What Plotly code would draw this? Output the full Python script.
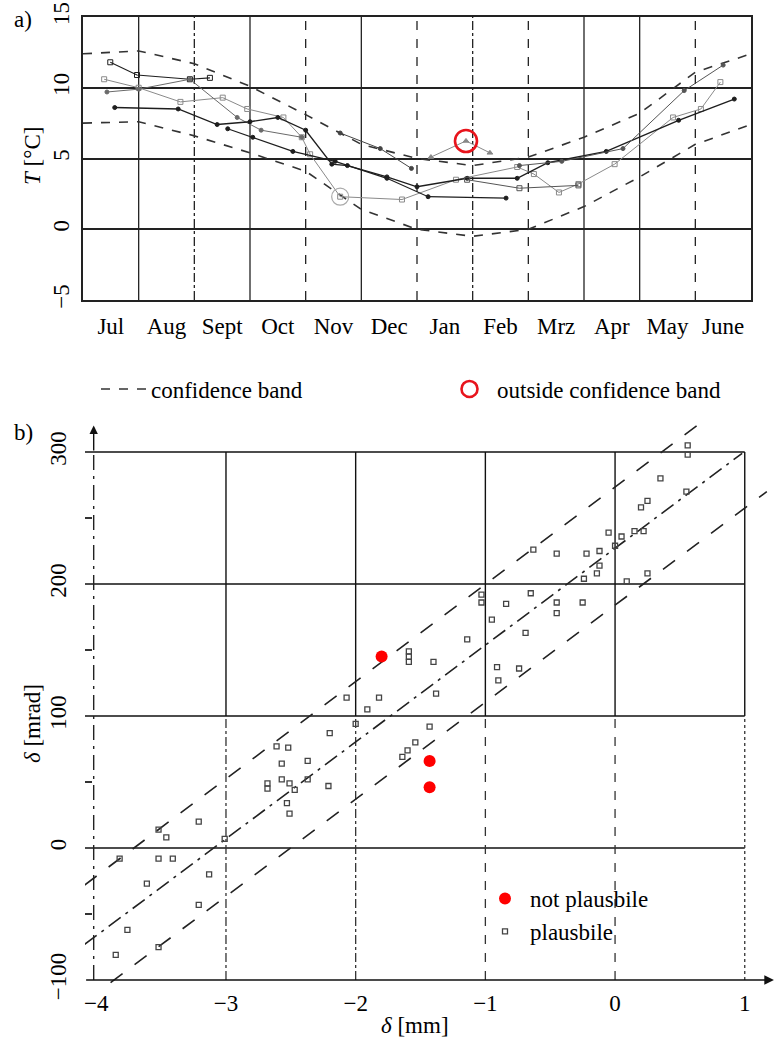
import plotly.graph_objects as go

# ---------------- panel a) data ----------------
months = ["Jul", "Aug", "Sept", "Oct", "Nov", "Dec", "Jan", "Feb", "Mrz", "Apr", "May", "June"]
month_pos = [i + 0.5 for i in range(12)]

band_u = list(range(13))
band_upper = [12.4, 12.6, 11.7, 10.1, 8.1, 6.0, 5.0, 4.5, 5.1, 6.5, 8.2, 11.1, 12.4]
band_lower = [7.5, 7.6, 6.6, 5.4, 4.1, 1.4, 0.0, -0.5, 0.0, 1.6, 3.7, 6.0, 7.4]

y1_u = [0.49, 0.97, 1.92, 2.28]
y1_T = [11.8, 10.9, 10.6, 10.7]
y2_u = [0.38, 1.0, 1.75, 2.51, 2.95, 3.6, 3.93, 4.08, 4.62, 5.73, 6.7, 7.8, 8.1, 8.55, 8.9, 9.55, 10.6, 11.1, 11.45]
y2_T = [10.6, 10.0, 9.0, 9.3, 8.5, 7.9, 6.5, 5.3, 2.3, 2.1, 3.5, 4.4, 3.9, 2.6, 3.2, 4.6, 7.9, 8.5, 10.4]
y3_u = [0.43, 1.0, 1.92, 2.77, 3.2, 3.93]
y3_T = [9.7, 9.9, 10.6, 7.9, 7.0, 6.5]
y4_u = [0.57, 1.71, 2.41, 3.0, 3.5, 4.0, 4.47, 4.75, 5.46, 6.0, 6.9, 7.8, 8.35, 9.4, 10.7, 11.7]
y4_T = [8.6, 8.5, 7.4, 7.6, 7.9, 7.0, 4.6, 4.5, 3.7, 3.0, 3.6, 3.6, 4.7, 5.5, 7.7, 9.2]
y5_u = [2.6, 3.05, 3.77, 4.53, 5.46, 6.2, 7.6]
y5_T = [7.1, 6.5, 5.5, 4.8, 3.6, 2.3, 2.2]
y6_u = [4.62, 5.34, 5.9]
y6_T = [6.8, 5.7, 4.3]
y7_u = [6.25, 6.88, 7.31]
y7_T = [5.1, 6.24, 5.4]
y8_u = [7.84, 8.6, 9.7, 10.8, 11.5]
y8_T = [4.5, 4.8, 5.7, 9.8, 11.6]
y9_u = [6.9, 7.84, 8.9]
y9_T = [3.5, 2.9, 3.1]

outside_u = [6.88]
outside_T = [6.24]
suspect_u = [4.62]
suspect_T = [2.3]

# ---------------- panel b) data ----------------
plaus_x = [-2.07, -1.82, -1.91, -2.0, -2.2,
           0.56, 0.56, 0.35, 0.55, 0.25, 0.20, -0.05, 0.05, 0.15, 0.22, 0.0, -0.22, -0.12,
           -0.12, -0.14, -0.24, 0.09, 0.25, -0.63, -0.45, -1.03, -1.03, -0.84, -0.65, -0.45,
           -0.45, -0.25, -0.95, -0.69, -1.14, -1.59, -1.59, -1.59, -1.40, -0.91, -0.90, -0.74,
           -1.38, -1.43, -1.64, -1.60, -1.54,
           -2.61, -2.52, -2.57, -2.37, -2.68, -2.68, -2.57, -2.51, -2.47, -2.53, -2.51, -2.37,
           -2.21, -3.21, -3.52, -3.46, -3.01, -3.82, -3.52, -3.41, -3.13, -3.61, -3.21, -3.76,
           -3.52, -3.85]
plaus_y = [114, 114, 105, 94, 87,
           305, 298, 280, 270, 263, 258, 239, 236, 240, 240, 229, 223, 225,
           214, 208, 204, 202, 208, 226, 223, 192, 186, 185, 193, 186,
           178, 186, 173, 163, 158, 149, 145, 141, 141, 137, 127, 136,
           117, 92, 69, 74, 80,
           77, 76, 64, 66, 49, 45, 52, 49, 44, 34, 26, 52,
           47, 20, 14, 8, 7, -8, -8, -8, -20, -27, -43, -62,
           -75, -81]
notplaus_x = [-1.80, -1.43, -1.43]
notplaus_y = [145, 66, 46]

band_b_upper_x = [-4.09, 0.70]
band_b_upper_y = [-28, 325]
band_b_mid_x = [-4.09, 0.98]
band_b_mid_y = [-73, 299]
band_b_lower_x = [-3.89, 1.17]
band_b_lower_y = [-102, 270]

FONT = "Liberation Serif, Times New Roman, serif"
FS = 23
DARK = "#1e1e1e"
W, H = 774, 1038


def px_x(p):
    return p / W


def px_y(p):
    return 1 - p / H


fig = go.Figure()

# confidence band (panel a)
fig.add_trace(go.Scatter(x=band_u, y=band_upper, mode="lines", name="confidence band",
                         line=dict(color="#333", width=1.6, dash="dash"),
                         xaxis="x", yaxis="y", legend="legend"))
fig.add_trace(go.Scatter(x=band_u, y=band_lower, mode="lines", showlegend=False,
                         line=dict(color="#333", width=1.6, dash="dash"),
                         xaxis="x", yaxis="y"))

series = [
    (y1_u, y1_T, DARK, 1.1, "square-open", 5),
    (y2_u, y2_T, "#8a8a8a", 1.0, "square-open", 5),
    (y3_u, y3_T, "#6a6a6a", 1.0, "circle", 4),
    (y4_u, y4_T, DARK, 1.4, "circle", 4),
    (y5_u, y5_T, DARK, 1.2, "circle", 4),
    (y6_u, y6_T, "#444", 1.0, "circle", 4),
    (y7_u, y7_T, "#888", 1.0, "triangle-up", 5),
    (y8_u, y8_T, "#555", 1.0, "circle", 4),
    (y9_u, y9_T, "#555", 1.0, "square-open", 5),
]
for u, t, c, w, sym, sz in series:
    fig.add_trace(go.Scatter(x=u, y=t, mode="lines+markers", showlegend=False,
                             line=dict(color=c, width=w),
                             marker=dict(symbol=sym, size=sz, color=c, line=dict(color=c, width=1)),
                             xaxis="x", yaxis="y"))

fig.add_trace(go.Scatter(x=suspect_u, y=suspect_T, mode="markers", showlegend=False,
                         marker=dict(symbol="circle-open", size=17, color="#aaa", line=dict(width=1.2)),
                         xaxis="x", yaxis="y"))
fig.add_trace(go.Scatter(x=outside_u, y=outside_T, mode="markers", name="outside confidence band",
                         marker=dict(symbol="circle-open", size=22, color="#e8141c", line=dict(width=2.6)),
                         xaxis="x", yaxis="y", legend="legend"))

# panel b
for bx, by, dsh in [(band_b_upper_x, band_b_upper_y, "longdash"),
                    (band_b_mid_x, band_b_mid_y, "longdashdot"),
                    (band_b_lower_x, band_b_lower_y, "longdash")]:
    fig.add_trace(go.Scatter(x=bx, y=by, mode="lines", showlegend=False,
                             line=dict(color="#222", width=1.6, dash=dsh),
                             xaxis="x2", yaxis="y2"))

fig.add_trace(go.Scatter(x=notplaus_x, y=notplaus_y, mode="markers", name="not plausbile",
                         marker=dict(symbol="circle", size=12, color="#ff0000"),
                         xaxis="x2", yaxis="y2", legend="legend2"))
fig.add_trace(go.Scatter(x=plaus_x, y=plaus_y, mode="markers", name="plausbile",
                         marker=dict(symbol="square-open", size=5, color="#444", line=dict(width=1.3)),
                         xaxis="x2", yaxis="y2", legend="legend2"))

shapes = []
# panel a vertical grid
grid_a_dash = ["solid", "dashdot", "solid", "dash", "solid", "dash", "dashdot", "dash", "solid", "solid", "dash"]
for i, d in enumerate(grid_a_dash):
    shapes.append(dict(type="line", xref="x", yref="y", x0=i + 1, x1=i + 1, y0=-5, y1=15,
                       line=dict(color="#222", width=1.3, dash=d), layer="below"))
# panel b horizontal grid
for yv in [300, 200, 100, 0]:
    shapes.append(dict(type="line", xref="x2", yref="y2", x0=-4.09, x1=1.0, y0=yv, y1=yv,
                       line=dict(color="#111", width=1.6), layer="below"))
# panel b vertical grid: (x, upper style, lower style)
grid_b = [(-3, "solid", "dashdot"), (-2, "solid", "dashdot"), (-1, "solid", "dash"),
          (0, "solid", "dash"), (1, "solid", "dot")]
for xv, up, lo in grid_b:
    shapes.append(dict(type="line", xref="x2", yref="y2", x0=xv, x1=xv, y0=100, y1=300,
                       line=dict(color="#111", width=1.4, dash=up), layer="below"))
    shapes.append(dict(type="line", xref="x2", yref="y2", x0=xv, x1=xv, y0=-100, y1=100,
                       line=dict(color="#333", width=1.3, dash=lo), layer="below"))
shapes.append(dict(type="line", xref="x2", yref="y2", x0=-4.02, x1=-4.02, y0=-100, y1=300,
                   line=dict(color="#222", width=1.4, dash="longdashdot"), layer="below"))

tfont = dict(family=FONT, size=FS, color="black")
annotations = [
    dict(text="a)", x=px_x(12), y=px_y(20), xref="paper", yref="paper", xanchor="left", yanchor="middle",
         showarrow=False, font=tfont),
    dict(text="b)", x=px_x(12), y=px_y(432), xref="paper", yref="paper", xanchor="left", yanchor="middle",
         showarrow=False, font=tfont),
    dict(text="<i>T</i> [°C]", x=px_x(32), y=px_y(156), xref="paper", yref="paper", textangle=-90,
         xanchor="center", yanchor="middle", showarrow=False, font=tfont),
    dict(text="<i>δ</i> [mrad]", x=px_x(32), y=px_y(724), xref="paper", yref="paper", textangle=-90,
         xanchor="center", yanchor="middle", showarrow=False, font=tfont),
    dict(text="<i>δ</i> [mm]", x=px_x(415), y=px_y(1025), xref="paper", yref="paper",
         xanchor="center", yanchor="middle", showarrow=False, font=tfont),
    # axis arrows
    dict(x=-4.02, y=320, ax=-4.02, ay=300, xref="x2", yref="y2", axref="x2", ayref="y2", text="",
         showarrow=True, arrowhead=2, arrowsize=1.2, arrowwidth=1.4, arrowcolor="#111"),
    dict(x=1.225, y=-100, ax=-4.09, ay=-100, xref="x2", yref="y2", axref="x2", ayref="y2", text="",
         showarrow=True, arrowhead=2, arrowsize=1.2, arrowwidth=1.6, arrowcolor="#111"),
]

fig.update_layout(
    width=W, height=H, margin=dict(l=0, r=0, t=0, b=0, autoexpand=False),
    paper_bgcolor="white", plot_bgcolor="white",
    font=tfont,
    shapes=shapes, annotations=annotations,
    xaxis=dict(domain=[px_x(83), px_x(751)], range=[0, 12], tickvals=month_pos, ticktext=months,
               showgrid=False, zeroline=False, showline=True, mirror=True, linecolor="#222", linewidth=1.6,
               ticks="", ticklabelstandoff=5, anchor="y", fixedrange=True),
    yaxis=dict(domain=[px_y(300), px_y(17)], range=[-5, 15], tickvals=[-5, 0, 5, 10, 15], tickangle=-90,
               showgrid=True, gridcolor="#222", gridwidth=1.5, zeroline=False, showline=True, mirror=True,
               linecolor="#222", linewidth=1.6, ticks="", ticklabelstandoff=3, anchor="x", fixedrange=True),
    xaxis2=dict(domain=[px_x(85), 1.0], range=[-4.087, 1.2255], tickvals=[-4, -3, -2, -1, 0, 1],
                showgrid=False, zeroline=False, showline=False, ticks="", ticklabelstandoff=3,
                anchor="y2", fixedrange=True),
    yaxis2=dict(domain=[px_y(984), px_y(412)], range=[-103, 330.3], tickvals=[-100, 0, 100, 200, 300],
                tickangle=-90, showgrid=False, zeroline=False, showline=False, ticks="", ticklabelstandoff=13,
                minor=dict(tickvals=[-50, 50, 150, 250], ticks="inside", ticklen=7, tickwidth=1.5, tickcolor="#333"),
                anchor="x2", fixedrange=True),
    legend=dict(orientation="h", x=px_x(96), y=px_y(389), xanchor="left", yanchor="middle",
                itemwidth=45, entrywidthmode="pixels", entrywidth=286, bgcolor="rgba(0,0,0,0)",
                font=tfont),
    legend2=dict(orientation="v", x=px_x(480), y=px_y(915), xanchor="left", yanchor="middle",
                 itemwidth=40, bgcolor="rgba(0,0,0,0)", font=tfont),
)

fig.write_html("out.html")
